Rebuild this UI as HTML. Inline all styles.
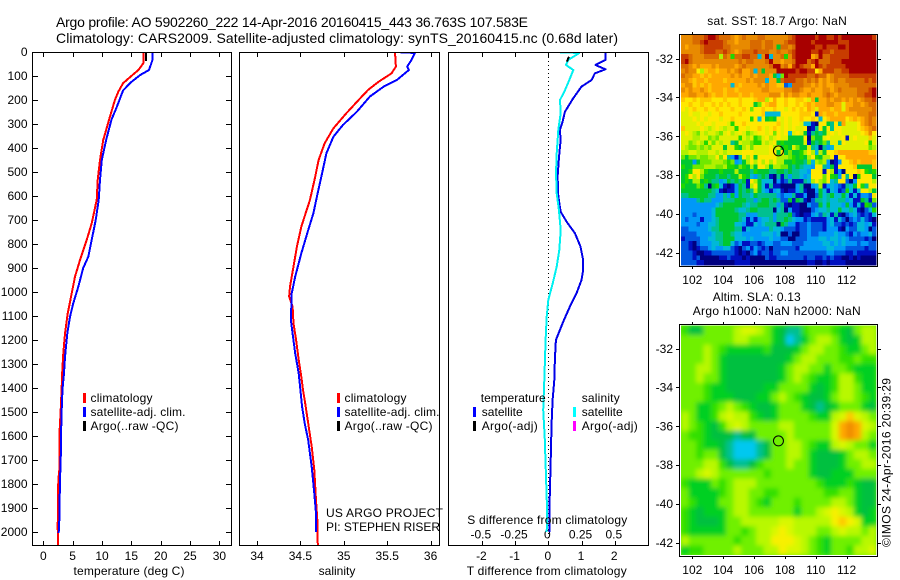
<!DOCTYPE html>
<html lang="en">
<head>
<meta charset="utf-8">
<title>Argo profile 5902260_222</title>
<style>
html,body{margin:0;padding:0;background:#fff;}
svg{display:block;font-family:"Liberation Sans",sans-serif;font-size:12px;fill:#000;}
.title{font-size:14px;}
.frame{fill:none;stroke:#000;stroke-width:1;shape-rendering:crispEdges;}
.key{shape-rendering:crispEdges;}
</style>
</head>
<body>
<svg id="fig" width="900" height="580" viewBox="0 0 900 580">
  <defs>
    <clipPath id="clip-temp"><rect x="33" y="53" width="198" height="492"/></clipPath>
    <clipPath id="clip-sal"><rect x="240" y="53" width="199" height="492"/></clipPath>
    <clipPath id="clip-diff"><rect x="449" y="53" width="199" height="492"/></clipPath>
    <clipPath id="clip-sla"><rect x="681" y="325.5" width="195.3" height="229.5"/></clipPath>
    <filter id="sla-blur" x="-5%" y="-5%" width="110%" height="110%"><feGaussianBlur stdDeviation="2.5"/></filter>
  </defs>

  <text class="title" x="56" y="27" textLength="472" lengthAdjust="spacing">Argo profile: AO 5902260_222 14-Apr-2016 20160415_443 36.763S 107.583E</text>
  <text class="title" x="56" y="43" textLength="562" lengthAdjust="spacing">Climatology: CARS2009. Satellite-adjusted climatology: synTS_20160415.nc (0.68d later)</text>

  <g id="plots"></g>
  <g id="maps"></g>

  <rect class="frame" x="32.5" y="52.5" width="199" height="493"/>
  <rect class="frame" x="239.5" y="52.5" width="200" height="493"/>
  <rect class="frame" x="448.5" y="52.5" width="200" height="493"/>
  <rect class="frame" x="679.5" y="34.5" width="198" height="232"/>
  <rect class="frame" x="679.5" y="324.5" width="198" height="232"/>

  <text x="129" y="575" text-anchor="middle" textLength="111" lengthAdjust="spacing">temperature (deg C)</text>
  <text x="337" y="575" text-anchor="middle">salinity</text>
  <text x="466.7" y="575" textLength="160" lengthAdjust="spacing">T difference from climatology</text>
  <text x="467.3" y="524" textLength="160" lengthAdjust="spacing">S difference from climatology</text>

  <g>
    <rect class="key" x="83" y="393" width="3" height="10" fill="#f00"/>
    <rect class="key" x="83" y="407" width="3" height="10" fill="#00f"/>
    <rect class="key" x="83" y="421" width="3" height="10" fill="#000"/>
    <text x="90.5" y="402" textLength="62" lengthAdjust="spacing">climatology</text>
    <text x="90.5" y="416" textLength="95" lengthAdjust="spacing">satellite-adj. clim.</text>
    <text x="90.5" y="430" textLength="88" lengthAdjust="spacing">Argo(..raw -QC)</text>
  </g>
  <g>
    <rect class="key" x="337" y="393" width="3" height="10" fill="#f00"/>
    <rect class="key" x="337" y="407" width="3" height="10" fill="#00f"/>
    <rect class="key" x="337" y="421" width="3" height="10" fill="#000"/>
    <text x="344.5" y="402" textLength="62" lengthAdjust="spacing">climatology</text>
    <text x="344.5" y="416" textLength="95" lengthAdjust="spacing">satellite-adj. clim.</text>
    <text x="344.5" y="430" textLength="88" lengthAdjust="spacing">Argo(..raw -QC)</text>
  </g>
  <g>
    <text x="480.7" y="402" textLength="65" lengthAdjust="spacing">temperature</text>
    <rect class="key" x="473" y="407" width="3" height="10" fill="#00f"/>
    <rect class="key" x="473" y="421" width="3" height="10" fill="#000"/>
    <text x="481.7" y="416" textLength="41" lengthAdjust="spacing">satellite</text>
    <text x="481.7" y="430" textLength="56" lengthAdjust="spacing">Argo(-adj)</text>
    <text x="581.7" y="402" textLength="38" lengthAdjust="spacing">salinity</text>
    <rect class="key" x="573" y="407" width="3" height="10" fill="#0ff"/>
    <rect class="key" x="573" y="421" width="3" height="10" fill="#f0f"/>
    <text x="581.7" y="416" textLength="41" lengthAdjust="spacing">satellite</text>
    <text x="581.7" y="430" textLength="56" lengthAdjust="spacing">Argo(-adj)</text>
  </g>

  <text x="326" y="517" textLength="117" lengthAdjust="spacing">US ARGO PROJECT</text>
  <text x="326" y="531" textLength="114" lengthAdjust="spacing">PI: STEPHEN RISER</text>

  <text x="707.3" y="25" textLength="139.5" lengthAdjust="spacing">sat. SST: 18.7 Argo: NaN</text>
  <text x="712.7" y="301" textLength="88" lengthAdjust="spacing">Altim. SLA: 0.13</text>
  <text x="692.7" y="315" textLength="168" lengthAdjust="spacing">Argo h1000: NaN h2000: NaN</text>
  <text transform="translate(890.5,547) rotate(-90)" textLength="169" lengthAdjust="spacing">©IMOS 24-Apr-2016 20:39:29</text>
</svg>

<script>
/* ---- tick values ---- */
const depthTicks = [0,100,200,300,400,500,600,700,800,900,1000,1100,1200,1300,1400,1500,1600,1700,1800,1900,2000];
const tempTicks = [0,5,10,15,20,25,30];
const salTicks = [34,34.5,35,35.5,36];
const diffTTicks = [-2,-1,0,1,2];
const diffSTicks = [-0.5,-0.25,0,0.25,0.5];
const lonTicks = [102,104,106,108,110,112];
const latTicks = [-32,-34,-36,-38,-40,-42];

/* ---- profile location ---- */
const argoLon = 107.583;
const argoLat = -36.763;

/* ---- temperature panel ---- */
const tempClimDepth = [0,47,75,96,130,165,200,283,367,450,533,617,630,714,783,867,936,1006,1090,1173,1256,1326,1395,1492,1603,1742,1783,1978,2054];
const tempClimValues = [17.04,17.04,16.2,15.2,13.6,12.8,12.2,11.2,10.2,9.66,9.26,9.1,8.98,8.24,7.39,6.25,5.4,4.83,4.15,3.7,3.4,3.24,3.13,2.96,2.73,2.73,2.56,2.45,2.5];
const tempSatDepth = [0,33,75,96,125,160,230,283,367,450,533,617,700,783,853,900,978,1048,1103,1173,1270,1339,1395,1450,1547,1700,1783,1950,2004];
const tempSatValues = [18.6,18.6,18.0,16.5,15.0,13.6,12.5,11.6,10.7,9.96,9.66,9.43,8.92,8.24,7.67,6.8,5.96,5.1,4.55,4.09,3.7,3.53,3.3,3.19,3.07,2.96,2.85,2.73,2.62];
const tempArgoDepth = [0,38];
const tempArgoValues = [17.5,17.5];

/* ---- salinity panel ---- */
const salClimDepth = [0,61,89,124,158,200,255,318,380,450,520,617,728,811,894,978,1019,1061,1131,1200,1283,1353,1408,1450,1547,1644,1742,1867,1950,2054];
const salClimValues = [35.59,35.6,35.55,35.4,35.28,35.17,35.03,34.88,34.78,34.71,34.67,34.61,34.51,34.46,34.42,34.38,34.37,34.41,34.42,34.45,34.48,34.51,34.53,34.55,34.59,34.63,34.66,34.68,34.695,34.7];
const salSatDepth = [0,4,33,61,75,117,144,186,249,304,353,422,505,603,672,742,839,936,1006,1117,1173,1256,1339,1408,1478,1547,1617,1728,1839,1922,1999];
const salSatValues = [35.6,35.82,35.78,35.73,35.75,35.61,35.46,35.3,35.15,34.99,34.88,34.8,34.75,34.69,34.65,34.59,34.51,34.44,34.4,34.39,34.41,34.44,34.48,34.5,34.52,34.55,34.59,34.63,34.66,34.68,34.68];

/* ---- difference panel ---- */
const diffTSatDepth = [3,33,54,72,89,117,144,193,249,290,325,367,443,520,600,665,707,755,811,867,908,950,1006,1061,1117,1200,1280,1367,1450,1547,1717,1922,1999];
const diffTSatValues = [1.73,1.73,1.42,1.72,1.4,1.3,1.0,0.75,0.5,0.43,0.35,0.37,0.32,0.28,0.3,0.37,0.55,0.8,0.97,1.05,1.05,1.0,0.85,0.65,0.47,0.23,0.2,0.18,0.13,0.1,0.07,0.03,0.03];
const diffSSatDepth = [0,4,33,54,75,117,158,200,255,325,422,505,589,658,742,825,894,964,1033,1103,1200,1367,1492,1603,1770,1922,1999];
const diffSSatValues = [0.038,0.233,0.15,0.133,0.188,0.158,0.126,0.088,0.093,0.075,0.063,0.058,0.063,0.08,0.093,0.083,0.063,0.033,0,-0.012,-0.02,-0.03,-0.038,-0.027,-0.017,-0.008,-0.012];
const diffTArgoDepth = [20,40];
const diffTArgoValues = [0.62,0.56];

/* ---- SST heatmap: one level letter per cell, north to south ---- */
const sstRowsWest = [
"rrrRRReDDeRRRrOrRrrrRRrrrr",
"rrrRReDeeeeRrrOrrrRRRrRRrr",
"rOrrrReeeeeRRrrrrrRRRrRRrg",
"rrrrrReeeRReRrOrRRReRRRrrR",
"eeRrrrRRRRmRrhRReeRRcrDcrr",
"eDRrrrrrrrrrrrrRrRRrrrRDrr",
"RRrOrOOOrOrrrrOrRrrrrrrRDD",
"rRrrYmoOOoOOrOrROOrcrgrrrD",
"RrrOOoOoOOOOOrOrOOrOrrrOgc",
"rrOoOOoOOOOoOOOOOrOrrrcOOg",
"OrroOoOoOOOOOcOoOOOOrOrOOo",
"rOrOOrOoOOOoOOoOOOOOOrrOOO",
"OOrrOOrOoOOoOOOoOOoOOOOrrr",
"oYYoYoooYYYoYYYoYYYoOOmYOY",
"YYoYYoYYoYoYoYYoYYYgkYoOOY",
"YyYoYYoYYoYYYoYYoYkYYoYYoY",
"yyYyyYYyYYoYYYYoYYYYYocccc",
"yyyYyYyYYYyYYoYYYYhYcYghgY",
"yyyyYyYYyYYYyhYYoYYYYYYYYo",
"oyyyyYymyYymyyhYYyYYoYyYoY",
"yYymkymyymkyYmyYykmyYYyYkY",
"yyymmyykmkyyyyyhymyhkyYmyY",
"yykmymhykymyytgymmkhhymyYg",
"ymkkmkmkyyygyyhgmykyyyyYmy",
"mmyymmmyymymyyyyYYYyyyyYYg",
"kgkkmkkmmYkYtldtYmYgYYYYYm",
"ggglgkkkmmmkhklcgmYmYmYmYm",
"hggkkkmmmkkmhhgkhgmgYYmgmm",
"gghYYmhggghgggmgggthgggttg",
"ghYmYkgggtggtggmhgcltgtdnt",
"ghgmmghgttlcgtgtgdYmgcccnl",
"hgggkhtnghcdndlgtdmYgcdtdd",
"ggggggggtcdnddlgtgtmgcldlc",
"ttgggggttlltlglgttcgtttttl",
"lllltgttllltttgggttltggtgt",
"lllllllllctgggggtcttgggttl",
"llllllllcgggggtcctggttttnc",
"lllbllllcggggggttlllttttlt",
"lbllldllctgggggtcdldlcctlt",
"llllbllcctggggcclddclctttn",
"bblllllcttggggttdcllllltcc",
"bbbbllllcttggtcclllllccclc",
"dbbbbllccttgggccclcllllcll",
"bbdnblllcctggcblddbbdbllbb",
"bbdndbblcllccbdnbldlbdbnbb",
"bbbdnnddbbbbbbdndnbldbbdbb",
"bbbdbnnnnnddbdddndnnnnbddb",
"bbbbddnnnnnnnnddddnnnnnnnn"
];
const sstRowsEast = [
"rrReDDDDDeDDeeDeDDDDDDDDe",
"rReeDDDDeDDDDDDeeeDDDDDDD",
"RRrRDDDDDeeDeeeDDeDDDDDDD",
"rrReDDDDeeDeeReeeeDDDDDDD",
"RhreDDDDOrDRReeeeeDDDDDDD",
"OrrRDDDReDRRReeeDDDDDDDDD",
"rROeDeRRODeReeeeeDDDDDDDD",
"DDDDeDDeeYOeeeRReeDDDDDDD",
"kDeeeeeRReRROrRRRReeeeeee",
"ReeeRRrRrROrOrRrrRRRRReRe",
"oblRRRrrOrOrOOrrrrRRRRRRR",
"OrrRRrOOrOOrrOrRrrrrRRReD",
"orOrrOOrOOOrRrOrrrrrRReeD",
"YoYYooYyOgOOrOrrOrOrOrRRe",
"YoYYoYoOoOOOrrOOyOOrrOrRR",
"YyYoYoYOoyOOOoOOyOrrrrrrR",
"YYYYYoooYdOoOOoOOOOOrrrRR",
"yYyYYoYYoYcYoOOOOYoOoOrRr",
"yYyYYyccdnYYgtYtOyyyYOrRr",
"yYyYyyYndtYgYtYYyyyyYoOrR",
"yYcyYygdtgtgyYyYyyyyyYorY",
"yyggggYnkggyYyyyYdyYyyyoy",
"hgggggydgtgktyytYyyyyyYhy",
"ghgykggytcntlcyyyyyyyyykm",
"YgkgghmYmcmgYYoOOOOOOOOoo",
"mmkhghgmYhgmmYdYYOOOOOOOO",
"mgghggtkcmkmlndlYYoOoOOOo",
"kkgtgtcclYYtlgdYYYYoggggo",
"gtgttcclYYYdYmdlnYYYoYhgh",
"dtlttclcYYYkYhglYtYnhYYYg",
"dbtdddtcmYmkYctYYbnlYYYYm",
"nnnnltnnlcmdlclbdtcgYhtYY",
"dnddltdnnlgcdcldbhcdcYYmg",
"blltddlnnbgctgccgcdcdllbY",
"bbgdgtdnbttctccttlcddgtdk",
"tdnddnnlbbgcgccclgldcdhgb",
"tnlddnnnblcctccgcctcdnbch",
"ttgbdnddlcbtcdtdnblcbdbdc",
"tgtclldbddddlcdcbnblbcbdn",
"gtlldbblbbbdlcbbdbdbcclcd",
"lbbbdbblbbbdllldnlbbcclnb",
"nnbnnbblbbllllcllbdlbllcb",
"bbnnbbblllcclcclclbbbbdbn",
"lllbbblllllcclclclllbllbb",
"bbbbdlllllllcclllbbbbbdbb",
"llbbbbbbbbbbllbbbddbddddd",
"bbbbbbdbbddbdbddnndndnnnn",
"nnnnnnnddnndnddddnnnnnnnn"
];

/* ---- SLA heatmap: one level letter per cell, north to south ---- */
const slaRows = [
"hGGkkkkmyymkgGtthkkkhgGkmm",
"kkkkkkkmmkkkgGctgkmmkgGgmm",
"kkkmkhggggghGGGgkmmkkhggkm",
"kkkmkgGGGGGGGGgkmmkkkhhkhh",
"kkmmkgGGGGGGGgkmmkkgkkhggg",
"kkmkkgGGGGGGGgkmkhgghmmhgg",
"kkkhggGGGGGggkkkkgGghmmkgg",
"kkkhgggGGGggkmkhgGGgkmmkhg",
"kkgghkmkhgGGgkkkgGtGgkkkgG",
"mkgghmymmhgGgkkkkhggmyoymk",
"mkhgGhmymkkkkmmkkkkkyOrOym",
"khhgGGGtGGkkkkmkkkkkyOrOmk",
"kkhggGtccctGkkmmkhggmymkkg",
"kkhkkGtccctGkkmmkgGGGgkmmk",
"kkkmmhGttGhkkkmkkgGGGgkkmm",
"kkmymkkkkkkhkkkkkgGGgggkkk",
"hgggkhkmmmkkkkkkkkhggghgGG",
"kgggghkmmkkhhkkkkkkhhkkgGG",
"khgggkkmmkhgkkkhkkkkmmkgGG",
"hgGgggkmmkkkkkkgkkmyYymgGg",
"hgGGGgkkmmmmmyymmmmmYoYygg",
"hgggggkkhkmmyYymmmkkmymmkm",
"mkkkkkkhkkmmYYYymkhgkkkkmm",
"ghhkkkkmkkkmmYyymkhgkkhmmy"
];

/* ---- colour scales for heatmap levels ---- */
function levelColor(level) {
  switch (level) {
    case 'n': return '#000080';
    case 'd': return '#0010c0';
    case 'b': return '#0058e0';
    case 'l': return '#0098f8';
    case 'c': return '#00b8d8';
    case 't': return '#00c090';
    case 'G': return '#00b050';
    case 'g': return '#00c830';
    case 'h': return '#20d800';
    case 'k': return '#70e800';
    case 'm': return '#b0f000';
    case 'y': return '#e0f000';
    case 'Y': return '#ffe800';
    case 'o': return '#ffc800';
    case 'O': return '#ffa800';
    case 'r': return '#e88a00';
    case 'R': return '#d86a00';
    case 'e': return '#c83c00';
    case 'D': return '#a80000';
    default: return '#70e800';
  }
}
function slaColor(level) {
  switch (level) {
    case 'c': return '#00c8f0';
    case 't': return '#00c090';
    case 'G': return '#00c040';
    case 'g': return '#00d020';
    case 'h': return '#30e000';
    case 'k': return '#70f000';
    case 'm': return '#b8f800';
    case 'y': return '#d8f800';
    case 'Y': return '#f8f000';
    case 'o': return '#ffc800';
    case 'O': return '#ffa800';
    case 'r': return '#f08c00';
    default: return '#70f000';
  }
}

/* ---- axis functions ---- */
function depthY(d) { return 52 + 0.24 * d; }
function tempX(t) { return 43.3 + 5.87 * t; }
function salX(s) { return 257 + 86.8 * (s - 34); }
function diffTX(t) { return 548.3 + 33.2 * t; }
function diffSX(s) { return 548.3 + 133 * s; }
function lonX(lon) { return 692.3 + 15.43 * (lon - 102); }
function sstLatY(lat) { return 58.5 + 19.4 * (-32 - lat); }
function slaLatY(lat) { return 348.5 + 19.4 * (-32 - lat); }

const NS = 'http://www.w3.org/2000/svg';
const plots = document.getElementById('plots');
const maps = document.getElementById('maps');

function make(tag, attrs, parent) {
  const el = document.createElementNS(NS, tag);
  for (const k in attrs) el.setAttribute(k, attrs[k]);
  parent.appendChild(el);
  return el;
}

function tick(parent, x1, y1, x2, y2, name) {
  const el = make('line', {x1: x1, y1: y1, x2: x2, y2: y2, stroke: '#000', 'stroke-width': 1, 'shape-rendering': 'crispEdges'}, parent);
  
  
  return el;
}

function label(parent, x, y, anchor, str, name) {
  const el = make('text', {x: x, y: y, 'text-anchor': anchor}, parent);
  el.textContent = str;
  
  
  return el;
}

function profile(parent, xFn, depths, values, color, clip, name) {
  const pts = depths.map(function (d, i) { return xFn(values[i]).toFixed(1) + ',' + depthY(d).toFixed(1); }).join(' ');
  const el = make('polyline', {points: pts, fill: 'none', stroke: color, 'stroke-width': 2, 'clip-path': 'url(#' + clip + ')', 'shape-rendering': 'crispEdges', 'stroke-linejoin': 'round'}, parent);
  
  
  return el;
}

/* depth axis on the temperature panel */
depthTicks.forEach(function (d) {
  const y = Math.floor(depthY(d)) + 0.5;
  tick(plots, 33, y, 38, y, 'depth-tick-left');
  tick(plots, 226, y, 231, y, 'depth-tick-right');
  label(plots, 27.5, depthY(d) + 4, 'end', String(d), 'depth-tick-label');
});

/* x axes */
tempTicks.forEach(function (t) {
  const x = Math.round(tempX(t)) + 0.5;
  tick(plots, x, 53, x, 57, 'temperature-tick-top');
  tick(plots, x, 541, x, 545, 'temperature-tick-bottom');
  label(plots, tempX(t), 560, 'middle', String(t), 'temperature-tick-label');
});
salTicks.forEach(function (s) {
  const x = Math.round(salX(s)) + 0.5;
  tick(plots, x, 53, x, 57, 'salinity-tick-top');
  tick(plots, x, 541, x, 545, 'salinity-tick-bottom');
  label(plots, salX(s), 560, 'middle', String(s), 'salinity-tick-label');
});
diffTTicks.forEach(function (t) {
  const x = Math.round(diffTX(t)) + 0.5;
  tick(plots, x, 53, x, 57, 'difference-tick-top');
  tick(plots, x, 541, x, 545, 'difference-tick-bottom');
  label(plots, diffTX(t) - 0.5, 560, 'middle', String(t), 't-difference-tick-label');
});
diffSTicks.forEach(function (s) {
  label(plots, diffSX(s) - 1, 538.3, 'middle', String(s), 's-difference-tick-label');
});

/* zero line of the difference panel */
const zeroLine = make('line', {x1: 548.5, y1: 53, x2: 548.5, y2: 545, stroke: '#000', 'stroke-width': 1, 'stroke-dasharray': '1 3', 'shape-rendering': 'crispEdges'}, plots);



/* profile series */
profile(plots, tempX, tempArgoDepth, tempArgoValues, '#000', 'clip-temp', 'temperature-argo-line');
profile(plots, tempX, tempClimDepth, tempClimValues, '#f00', 'clip-temp', 'temperature-climatology-line');
profile(plots, tempX, tempSatDepth, tempSatValues, '#00f', 'clip-temp', 'temperature-satellite-line');
profile(plots, salX, salClimDepth, salClimValues, '#f00', 'clip-sal', 'salinity-climatology-line');
profile(plots, salX, salSatDepth, salSatValues, '#00f', 'clip-sal', 'salinity-satellite-line');
profile(plots, diffTX, diffTSatDepth, diffTSatValues, '#0000e8', 'clip-diff', 't-difference-satellite-line');
profile(plots, diffSX, diffSSatDepth, diffSSatValues, '#00f0f0', 'clip-diff', 's-difference-satellite-line');
profile(plots, diffTX, diffTArgoDepth, diffTArgoValues, '#000', 'clip-diff', 't-difference-argo-line');

/* SST heatmap */
const sstGroup = make('g', {'shape-rendering': 'crispEdges'}, maps);


const sstCols = 51;
const sstCellW = 195 / sstCols;
const sstCellH = 230 / sstRowsWest.length;
sstRowsWest.forEach(function (west, r) {
  const east = sstRowsEast[r];
  for (let c = 0; c < sstCols; c++) {
    const lvl = c < 26 ? (west[c] || west[west.length - 1]) : (east[c - 26] || east[east.length - 1]);
    const cell = make('rect', {x: (681 + c * sstCellW).toFixed(2), y: (35 + r * sstCellH).toFixed(2), width: (sstCellW + 0.4).toFixed(2), height: (sstCellH + 0.4).toFixed(2), fill: levelColor(lvl)}, sstGroup);
    
    
  }
});

/* SLA heatmap */
const slaClip = make('g', {'clip-path': 'url(#clip-sla)'}, maps);


const slaBase = make('rect', {x: 681, y: 325.5, width: 195.3, height: 229.5, fill: '#70f000'}, slaClip);


const slaGroup = make('g', {filter: 'url(#sla-blur)'}, slaClip);


const slaCols = 26;
const slaCellW = 195.3 / slaCols;
const slaCellH = 229.5 / slaRows.length;
slaRows.forEach(function (row, r) {
  for (let c = 0; c < slaCols; c++) {
    const lvl = row[c] || row[row.length - 1];
    const cell = make('rect', {x: (681 + c * slaCellW).toFixed(2), y: (325.5 + r * slaCellH).toFixed(2), width: (slaCellW + 0.4).toFixed(2), height: (slaCellH + 0.4).toFixed(2), fill: slaColor(lvl)}, slaGroup);
    
    
  }
});

/* map axes */
lonTicks.forEach(function (lon) {
  const x = Math.round(lonX(lon)) + 0.5;
  tick(maps, x, 32, x, 34, 'sst-lon-tick-top');
  tick(maps, x, 267, x, 269, 'sst-lon-tick-bottom');
  tick(maps, x, 322, x, 324, 'sla-lon-tick-top');
  tick(maps, x, 557, x, 559, 'sla-lon-tick-bottom');
  label(maps, lonX(lon), 284, 'middle', String(lon), 'sst-lon-label');
  label(maps, lonX(lon), 574, 'middle', String(lon), 'sla-lon-label');
});
latTicks.forEach(function (lat) {
  const y1 = Math.round(sstLatY(lat)) + 0.5;
  tick(maps, 676, y1, 679, y1, 'sst-lat-tick-left');
  tick(maps, 878, y1, 881, y1, 'sst-lat-tick-right');
  label(maps, 673, sstLatY(lat) + 4.3, 'end', String(lat), 'sst-lat-label');
  const y2 = Math.round(slaLatY(lat)) + 0.5;
  tick(maps, 676, y2, 679, y2, 'sla-lat-tick-left');
  tick(maps, 878, y2, 881, y2, 'sla-lat-tick-right');
  label(maps, 673, slaLatY(lat) + 4.3, 'end', String(lat), 'sla-lat-label');
});

/* Argo position markers */
const sstMarker = make('circle', {cx: lonX(argoLon), cy: sstLatY(argoLat), r: 5, fill: 'none', stroke: '#000', 'stroke-width': 1}, maps);


const slaMarker = make('circle', {cx: lonX(argoLon), cy: slaLatY(argoLat), r: 5, fill: 'none', stroke: '#000', 'stroke-width': 1}, maps);


</script>
</body>
</html>
